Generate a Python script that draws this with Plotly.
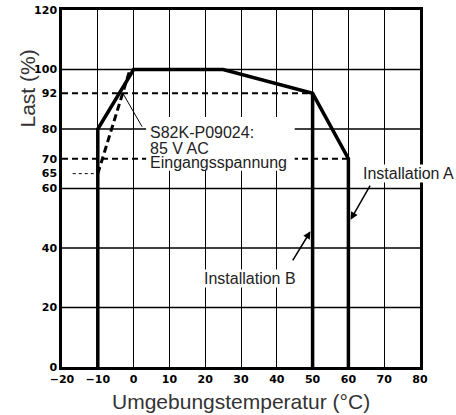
import plotly.graph_objects as go

# ---- data ----
inst_a_x = [-10, -10, 0, 25, 50, 60, 60]
inst_a_y = [0, 80, 100, 100, 92, 70, 0]
inst_b_x = [50, 50]
inst_b_y = [92, 0]
s82k_x = [-10, -1]
s82k_y = [65, 100]
ref92_x = [-20, 50]
ref92_y = [92, 92]
ref70_x = [-20, 60]
ref70_y = [70, 70]
ref65_x = [-17, -10]
ref65_y = [65, 65]

x_ticks = [-20, -10, 0, 10, 20, 30, 40, 50, 60, 70, 80]
y_ticks = [0, 20, 40, 60, 65, 70, 80, 92, 100, 120]
y_grid = [20, 40, 60, 80, 100]

FONT = "Liberation Sans, Arial, sans-serif"
TXT = "#222"

fig = go.Figure()
fig.add_trace(go.Scatter(x=ref92_x, y=ref92_y, mode="lines",
                         line=dict(color="black", width=2, dash="6px,4px")))
fig.add_trace(go.Scatter(x=ref70_x, y=ref70_y, mode="lines",
                         line=dict(color="black", width=2, dash="6px,4px")))
fig.add_trace(go.Scatter(x=ref65_x, y=ref65_y, mode="lines",
                         line=dict(color="black", width=1, dash="dot")))
fig.add_trace(go.Scatter(x=s82k_x, y=s82k_y, mode="lines",
                         line=dict(color="black", width=3, dash="7px,4px")))
fig.add_trace(go.Scatter(x=inst_a_x, y=inst_a_y, mode="lines",
                         line=dict(color="black", width=3.5)))
fig.add_trace(go.Scatter(x=inst_b_x, y=inst_b_y, mode="lines",
                         line=dict(color="black", width=3.5)))

shapes = []
for g in y_grid:
    shapes.append(dict(type="line", xref="paper", x0=0, x1=1, yref="y", y0=g, y1=g,
                       line=dict(color="black", width=1.6), layer="below"))
# white box behind the S82K label
shapes.append(dict(type="rect", xref="x", yref="y", x0=3.5, x1=45, y0=66, y1=84,
                   fillcolor="white", line=dict(width=0), layer="above"))

annotations = []
# label pointers
annotations.append(dict(x=-3, y=92, ax=2.6, ay=80.3, xref="x", yref="y", axref="x", ayref="y",
                        text="", showarrow=True, arrowhead=0, arrowwidth=1, arrowcolor="black"))
annotations.append(dict(x=60.6, y=49.5, ax=66.3, ay=61.5, xref="x", yref="y", axref="x", ayref="y",
                        text="", showarrow=True, arrowhead=2, arrowsize=1, arrowwidth=1.5,
                        arrowcolor="black"))
annotations.append(dict(x=49.4, y=45.6, ax=44.2, ay=35.3, xref="x", yref="y", axref="x", ayref="y",
                        text="", showarrow=True, arrowhead=2, arrowsize=1, arrowwidth=1.5,
                        arrowcolor="black"))
# texts
for t, yy in [("S82K-P09024:", 78.7), ("85 V AC", 73.6), ("Eingangsspannung", 68.6)]:
    annotations.append(dict(x=4.0, y=yy, xref="x", yref="y", text=t, showarrow=False,
                            xanchor="left", yanchor="middle",
                            font=dict(family=FONT, size=16, color=TXT)))
annotations.append(dict(x=76.8, y=64.9, xref="x", yref="y", text="Installation A", showarrow=False,
                        xanchor="center", yanchor="middle", bgcolor="white", borderpad=0,
                        font=dict(family=FONT, size=16, color=TXT)))
annotations.append(dict(x=32.4, y=29.9, xref="x", yref="y", text="Installation B", showarrow=False,
                        xanchor="center", yanchor="middle", bgcolor="white", borderpad=0,
                        font=dict(family=FONT, size=16, color=TXT)))
# axis titles
annotations.append(dict(x=-0.095, y=0.78, xref="paper", yref="paper", text="Last (%)",
                        textangle=-90, showarrow=False, xanchor="center", yanchor="middle",
                        font=dict(family=FONT, size=21, color="#333")))
annotations.append(dict(x=0.5, y=-0.098, xref="paper", yref="paper",
                        text="Umgebungstemperatur (°C)", showarrow=False,
                        xanchor="center", yanchor="middle",
                        font=dict(family=FONT, size=21, color="#333")))

tickfont = dict(family="DejaVu Sans, sans-serif", size=11, color="black", weight="bold")

fig.update_layout(
    width=456, height=415,
    margin=dict(l=62, r=36, t=10, b=48, autoexpand=False),
    paper_bgcolor="white", plot_bgcolor="white",
    showlegend=False,
    shapes=shapes, annotations=annotations,
    xaxis=dict(range=[-20, 80], tickvals=x_ticks, showgrid=True, gridcolor="black",
               gridwidth=1.2, zeroline=False, showline=True, linecolor="black", linewidth=2.5,
               mirror=True, ticks="", tickfont=tickfont, automargin=False),
    yaxis=dict(range=[0, 120], tickvals=y_ticks, showgrid=False, zeroline=False,
               showline=True, linecolor="black", linewidth=2.5, mirror=True, ticks="",
               tickfont=tickfont, automargin=False),
)

# remove the page's default body margin so the figure fills the window exactly
fig.write_html("out.html",
               config=dict(displayModeBar=False),
               post_script="document.body.style.margin='0';document.body.style.overflow='hidden';")
